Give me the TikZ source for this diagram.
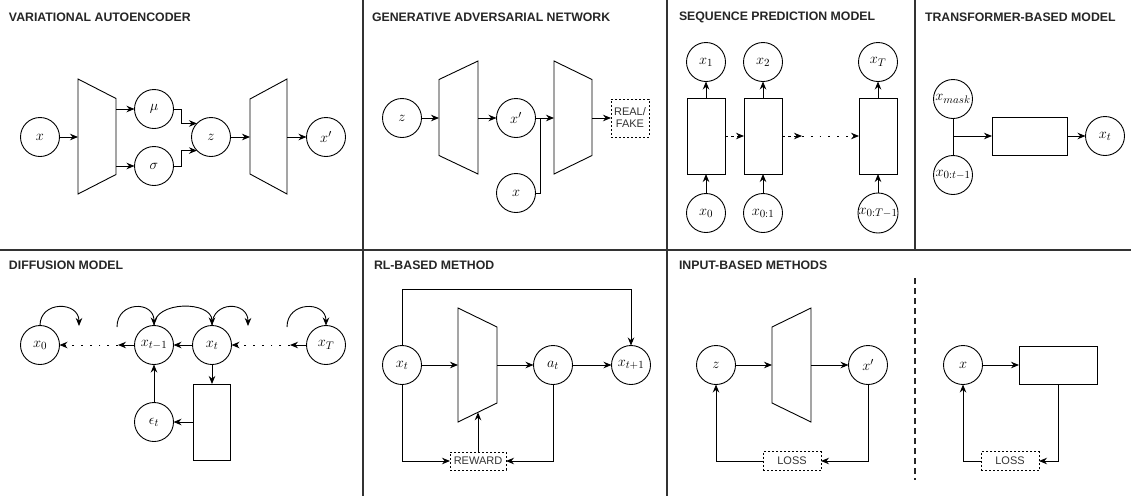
\documentclass[tikz,border=0pt]{standalone}
\usepackage{fontspec}
\setsansfont{Liberation Sans}
\usetikzlibrary{arrows.meta,calc}
\begin{document}
\begin{tikzpicture}[x=1pt,y=-1pt,
  every node/.style={inner sep=0pt,outer sep=0pt},
  circ/.style={circle,draw,line width=0.9pt,minimum size=39pt,font=\fontsize{15}{17}\selectfont},
  boxn/.style={rectangle,draw,line width=0.9pt},
  trapbox/.style={rectangle,draw=none},
  trap/.style={draw,line width=0.9pt,line join=miter},
  dbox/.style={rectangle,draw,dashed,dash pattern=on 2pt off 2pt,line width=0.8pt,font=\sffamily\fontsize{11}{12}\selectfont,text=black!80,align=center},
  title/.style={anchor=west,font=\sffamily\bfseries\fontsize{12.3}{14}\selectfont,text=black!85},
  arr/.style={-{Stealth[length=8pt,width=6.5pt]},line width=0.9pt},
  dotarr/.style={arr,dash pattern=on 1.8pt off 7pt},
  dasharr/.style={arr,dash pattern=on 3pt off 3pt},
  divider/.style={line width=2pt,draw=black!80},
]
\useasboundingbox (0,0) rectangle (1131,496);

% dividers
\draw[divider] (0,250) -- (1131,250);
\draw[divider] (363,0) -- (363,496);
\draw[divider] (667,0) -- (667,496);
\draw[divider] (915,0) -- (915,250);

% titles
\node[title] (t1) at (9,17) {VARIATIONAL AUTOENCODER};
\node[title] (t2) at (372,17) {GENERATIVE ADVERSARIAL NETWORK};
\node[title] (t3) at (679,17) {SEQUENCE PREDICTION MODEL};
\node[title] (t4) at (925,17) {TRANSFORMER-BASED MODEL};
\node[title] (t5) at (9,265) {DIFFUSION MODEL};
\node[title] (t6) at (374,265) {RL-BASED METHOD};
\node[title] (t7) at (679,265) {INPUT-BASED METHODS};

% ---------------- VAE ----------------
\node[circ] (vx) at (40,137) {$x$};
\node[trapbox,minimum width=38pt,minimum height=115pt] (enc) at (97,136.5) {};
\draw[trap] (enc.north west) -- ([yshift=-19.5pt]enc.north east) -- ([yshift=19.5pt]enc.south east) -- (enc.south west) -- cycle;
\node[circ] (mu) at (154,109) {$\mu$};
\node[circ] (sig) at (154,166) {$\sigma$};
\node[circ] (vz) at (211,137) {$z$};
\node[trapbox,minimum width=37pt,minimum height=115pt] (dec) at (268.5,136.5) {};
\draw[trap] ([yshift=-20pt]dec.north west) -- (dec.north east) -- (dec.south east) -- ([yshift=20pt]dec.south west) -- cycle;
\node[circ] (vxp) at (326,137) {$x'$};
\draw[arr] (vx.east) -- (vx.east -| enc.west);
\draw[arr] (mu -| enc.east) -- (mu.west);
\draw[arr] (sig -| enc.east) -- (sig.west);
\draw[arr] (mu.east) -- ++(8,0) |- (vz.136);
\draw[arr] (sig.east) -- ++(8,0) |- (vz.224);
\draw[arr] (vz.east) -- (vz.east -| dec.west);
\draw[arr] (vxp.west -| dec.east) -- (vxp.west);

% ---------------- GAN ----------------
\node[circ] (gz) at (402,118) {$z$};
\node[trapbox,minimum width=39pt,minimum height=113pt] (gen) at (458.5,117.5) {};
\draw[trap] ([yshift=-18.5pt]gen.north west) -- (gen.north east) -- (gen.south east) -- ([yshift=18.5pt]gen.south west) -- cycle;
\node[circ] (gxp) at (516,118) {$x'$};
\node[trapbox,minimum width=38pt,minimum height=113pt] (disc) at (573,117.5) {};
\draw[trap] (disc.north west) -- ([yshift=-18.5pt]disc.north east) -- ([yshift=18.5pt]disc.south east) -- (disc.south west) -- cycle;
\node[circ] (gx) at (516,193) {$x$};
\node[dbox,minimum width=38pt,minimum height=38pt] (rf) at (630,118) {REAL/\\FAKE};
\coordinate (gj) at (540,118);
\draw[arr] (gz.east) -- (gz.east -| gen.west);
\draw[arr] (gxp.west -| gen.east) -- (gxp.west);
\draw[arr] (gxp.east) -- (gxp.east -| disc.west);
\draw[line width=0.9pt] (gx.east) -| (gj);
\draw[arr] (rf.west -| disc.east) -- (rf.west);

% ---------------- Sequence ----------------
\node[boxn,minimum width=38pt,minimum height=76pt] (r1) at (706,136) {};
\node[boxn,minimum width=38pt,minimum height=76pt] (r2) at (763,136) {};
\node[boxn,minimum width=38pt,minimum height=76pt] (r3) at (878,136) {};
\node[circ] (s1) at (706,62) {$x_1$};
\node[circ] (s2) at (763,62) {$x_2$};
\node[circ] (sT) at (878,62) {$x_T$};
\node[circ] (b0) at (706,213) {$x_0$};
\node[circ] (b1) at (763,213) {$x_{0:1}$};
\node[circ] (bT) at (878,213) {$x_{0:T-1}$};
\coordinate (sc) at (802,136);
\draw[arr] (r1.north) -- (s1.south);
\draw[arr] (r2.north) -- (s2.south);
\draw[arr] (r3.north) -- (sT.south);
\draw[arr] (b0.north) -- (r1.south);
\draw[arr] (b1.north) -- (r2.south);
\draw[arr] (bT.north) -- (r3.south);
\draw[dasharr] (r1.east) -- (r2.west);
\draw[dasharr] (r2.east) -- (sc);
\draw[dotarr] (sc) -- (r3.west);

% ---------------- Transformer ----------------
\node[circ] (xm) at (953,99) {$x_{mask}$};
\node[circ] (xo) at (953,175) {$x_{0:t-1}$};
\node[boxn,minimum width=75pt,minimum height=38pt] (tr) at (1029.5,136) {};
\node[circ] (txt) at (1105,136) {$x_t$};
\coordinate (tj) at (953,136);
\draw[line width=0.9pt] (xm.south) -- (xo.north);
\draw[arr] (tj) -- (tr.west);
\draw[arr] (tr.east) -- (txt.west);

% ---------------- Diffusion ----------------
\node[circ] (d0) at (40,345) {$x_0$};
\node[circ] (dtm) at (154,345) {$x_{t-1}$};
\node[circ] (dt) at (212,345) {$x_t$};
\node[circ] (dT) at (326,345) {$x_T$};
\node[boxn,minimum width=37pt,minimum height=76pt] (dr) at (212,422) {};
\node[circ] (eps) at (154,422) {$\epsilon_t$};
\coordinate (dc1) at (290,345);
\coordinate (dc2) at (118,345);
\coordinate (a1e) at (79,326);
\coordinate (a2s) at (117,327);
\coordinate (a4e) at (248,326);
\coordinate (a5s) at (287,327);
\draw[arr] (dT.west) -- (dc1);
\draw[dotarr] (dc1) -- (dt.east);
\draw[arr] (dt.west) -- (dtm.east);
\draw[arr] (dtm.west) -- (dc2);
\draw[dotarr] (dc2) -- (d0.east);
\draw[arr] (dt.south) -- (dr.north);
\draw[arr] (dr.west |- eps) -- (eps.east);
\draw[arr] (eps.north) -- (dtm.south);
\draw[arr] (d0.north) .. controls +(0,-25) and +(0,-25) .. (a1e);
\draw[arr] (a2s) .. controls +(0,-26) and +(0,-25) .. (dtm.north);
\draw[arr] (dtm.north) .. controls +(0,-25) and +(0,-25) .. (dt.north);
\draw[arr] (dt.north) .. controls +(0,-25) and +(0,-25) .. (a4e);
\draw[arr] (a5s) .. controls +(0,-26) and +(0,-25) .. (dT.north);

% ---------------- RL ----------------
\node[circ] (rx) at (402,365) {$x_t$};
\node[trapbox,minimum width=39pt,minimum height=114pt] (pol) at (477.5,365) {};
\draw[trap] (pol.north west) -- ([yshift=-19pt]pol.north east) -- ([yshift=19pt]pol.south east) -- (pol.south west) -- cycle;
\node[circ] (ra) at (553,365) {$a_t$};
\node[circ] (rx1) at (631,365) {$x_{t+1}$};
\node[dbox,minimum width=56pt,minimum height=18pt] (rw) at (478,461) {REWARD};
\coordinate (pb) at (478,412.3);
\draw[arr] (rx.east) -- (rx.east -| pol.west);
\draw[arr] (ra.west -| pol.east) -- (ra.west);
\draw[arr] (ra.east) -- (rx1.west);
\draw[arr] (rx.north) -- ++(0,-56) -| (rx1.north);
\draw[arr] (rx.south) |- (rw.west);
\draw[arr] (ra.south) |- (rw.east);
\draw[arr] (rw.north) -- (pb);

% ---------------- Input-based ----------------
\node[circ] (iz) at (716,365) {$z$};
\node[trapbox,minimum width=39pt,minimum height=114pt] (ig) at (791.5,365) {};
\draw[trap] ([yshift=-19pt]ig.north west) -- (ig.north east) -- (ig.south east) -- ([yshift=19pt]ig.south west) -- cycle;
\node[circ] (ixp) at (868,365) {$x'$};
\node[dbox,minimum width=58pt,minimum height=19pt] (l1) at (792,461) {LOSS};
\draw[arr] (iz.east) -- (iz.east -| ig.west);
\draw[arr] (ixp.west -| ig.east) -- (ixp.west);
\draw[arr] (ixp.south) |- (l1.east);
\draw[arr] (l1.west) -| (iz.south);

\coordinate (sepa) at (915,278);
\coordinate (sepb) at (915,480);
\draw[line width=2pt,draw=black!85,dash pattern=on 6pt off 4pt] (sepa) -- (sepb);

\node[circ] (ix) at (963,365) {$x$};
\node[boxn,minimum width=78pt,minimum height=38pt] (ir) at (1058,365) {};
\node[dbox,minimum width=58pt,minimum height=19pt] (l2) at (1010,461) {LOSS};
\draw[arr] (ix.east) -- (ir.west);
\draw[arr] (ir.south) |- (l2.east);
\draw[arr] (l2.west) -| (ix.south);
\end{tikzpicture}
\end{document}
